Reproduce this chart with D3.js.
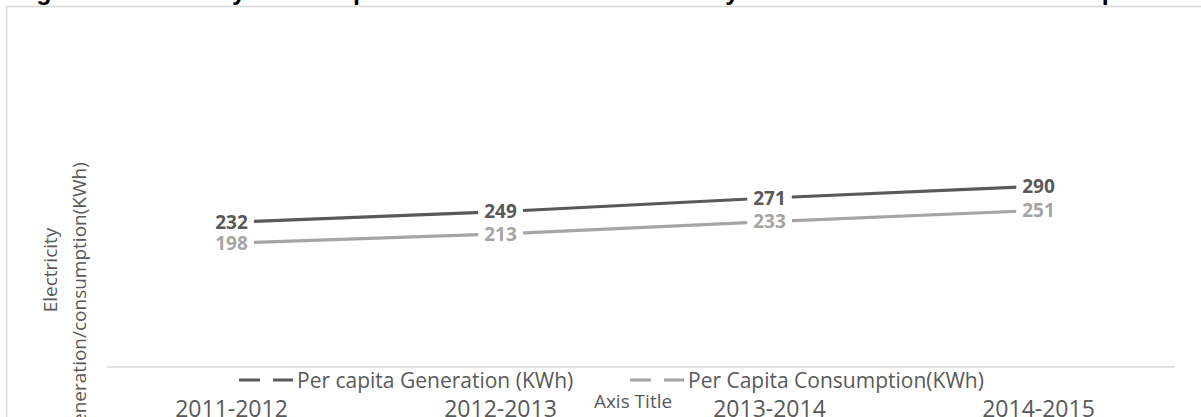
<!DOCTYPE html>
<html>
<head>
<meta charset="utf-8">
<script src="https://cdn.jsdelivr.net/npm/d3@7"></script>
<style>
  html, body { margin: 0; padding: 0; background: #ffffff; overflow: hidden; }
  svg { display: block; }
</style>
</head>
<body>
<svg id="chart" width="1201" height="417"></svg>
<script>
// Financial years on the category axis
const years = ["2011-2012", "2012-2013", "2013-2014", "2014-2015"];
// Per capita electricity figures (KWh)
const generation = [232, 249, 271, 290];
const consumption = [198, 213, 233, 251];
// Series names shown in the legend
const seriesNames = ["Per capita Generation (KWh)", "Per Capita Consumption(KWh)"];
const titleText = "Figure 1: Electricity Consumption and Generation: Electricity Statistics of the State - Per Capita";

const series = [
  { name: seriesNames[0], values: generation, color: "#595959" },
  { name: seriesNames[1], values: consumption, color: "#a5a5a5" }
];

const svg = d3.select("#chart");
const FONT = "'Open Sans', 'DejaVu Sans', sans-serif";

// Chart frame
svg.append("rect")
  .attr("x", 6.5).attr("y", 6.5)
  .attr("width", 1300).attr("height", 500)
  .attr("fill", "#ffffff")
  .attr("stroke", "#d9d9d9").attr("stroke-width", 1.6);

// Title (runs off the top of the frame)
svg.append("text")
  .attr("x", 14).attr("y", -0.5)
  .attr("font-family", "'Liberation Sans', Arial, sans-serif")
  .attr("font-weight", "bold")
  .attr("font-size", 25)
  .attr("fill", "#000000")
  .text(titleText);

// Scales
const x = d3.scaleBand().domain(years).range([97, 1173]);
const y = d3.scaleLinear().domain([0, 500]).range([366, 56]);
const cx = d => x(d) + x.bandwidth() / 2;

// Category axis line
svg.append("line")
  .attr("x1", 107).attr("x2", 1175)
  .attr("y1", 367).attr("y2", 367)
  .attr("stroke", "#d9d9d9").attr("stroke-width", 1.5);

// Category labels
const xAxis = d3.axisBottom(x).tickSize(0).tickPadding(0);
const gx = svg.append("g").call(xAxis);
gx.select(".domain").remove();
gx.selectAll(".tick text")
  .attr("y", 416.5).attr("dy", null)
  .attr("font-family", FONT).attr("font-size", 23)
  .attr("fill", "#595959");

// Axis titles
svg.append("text")
  .attr("x", 633).attr("y", 408)
  .attr("text-anchor", "middle")
  .attr("font-family", FONT).attr("font-size", 19)
  .attr("fill", "#595959")
  .text("Axis Title");

const yTitleStyle = t => t
  .attr("text-anchor", "middle")
  .attr("font-family", FONT).attr("font-size", 19)
  .attr("fill", "#595959");
svg.append("text")
  .attr("transform", "translate(57,270) rotate(-90)")
  .call(yTitleStyle)
  .text("Electricity");
svg.append("text")
  .attr("transform", "translate(86,300) rotate(-90)")
  .call(yTitleStyle)
  .text("Generation/consumption(KWh)");

// Lines
const line = d3.line()
  .x((v, i) => cx(years[i]))
  .y(v => y(v));

svg.selectAll("path.series")
  .data(series)
  .join("path")
  .attr("class", "series")
  .attr("d", s => line(s.values))
  .attr("fill", "none")
  .attr("stroke", s => s.color)
  .attr("stroke-width", 3.2)
  .attr("stroke-linejoin", "round");

// Data labels, centred on each point over a white box
const labelData = series.flatMap(s => s.values.map((v, i) => ({ v, i, color: s.color })));
const labels = svg.append("g");
const boxes = labels.append("g");
const texts = labels.append("g");
texts.selectAll("text")
  .data(labelData)
  .join("text")
  .attr("x", d => cx(years[d.i]))
  .attr("y", d => y(d.v))
  .attr("dy", "0.36em")
  .attr("text-anchor", "middle")
  .attr("font-family", FONT).attr("font-weight", "bold").attr("font-size", 19)
  .attr("fill", d => d.color)
  .text(d => d.v)
  .each(function (d) {
    const b = this.getBBox();
    boxes.append("rect")
      .attr("x", b.x - 6).attr("width", b.width + 12)
      .attr("y", y(d.v) - 7).attr("height", 14)
      .attr("fill", "#ffffff");
  });

// Legend
const legendPos = [239, 630];
const lg = svg.append("g");
series.forEach((s, k) => {
  const lx = legendPos[k];
  lg.append("line")
    .attr("x1", lx).attr("x2", lx + 54)
    .attr("y1", 380).attr("y2", 380)
    .attr("stroke", s.color).attr("stroke-width", 3.2)
    .attr("stroke-dasharray", "21,13");
  lg.append("text")
    .attr("x", lx + 58).attr("y", 388)
    .attr("font-family", FONT).attr("font-size", 21)
    .attr("fill", "#595959")
    .text(s.name);
});
</script>
</body>
</html>
